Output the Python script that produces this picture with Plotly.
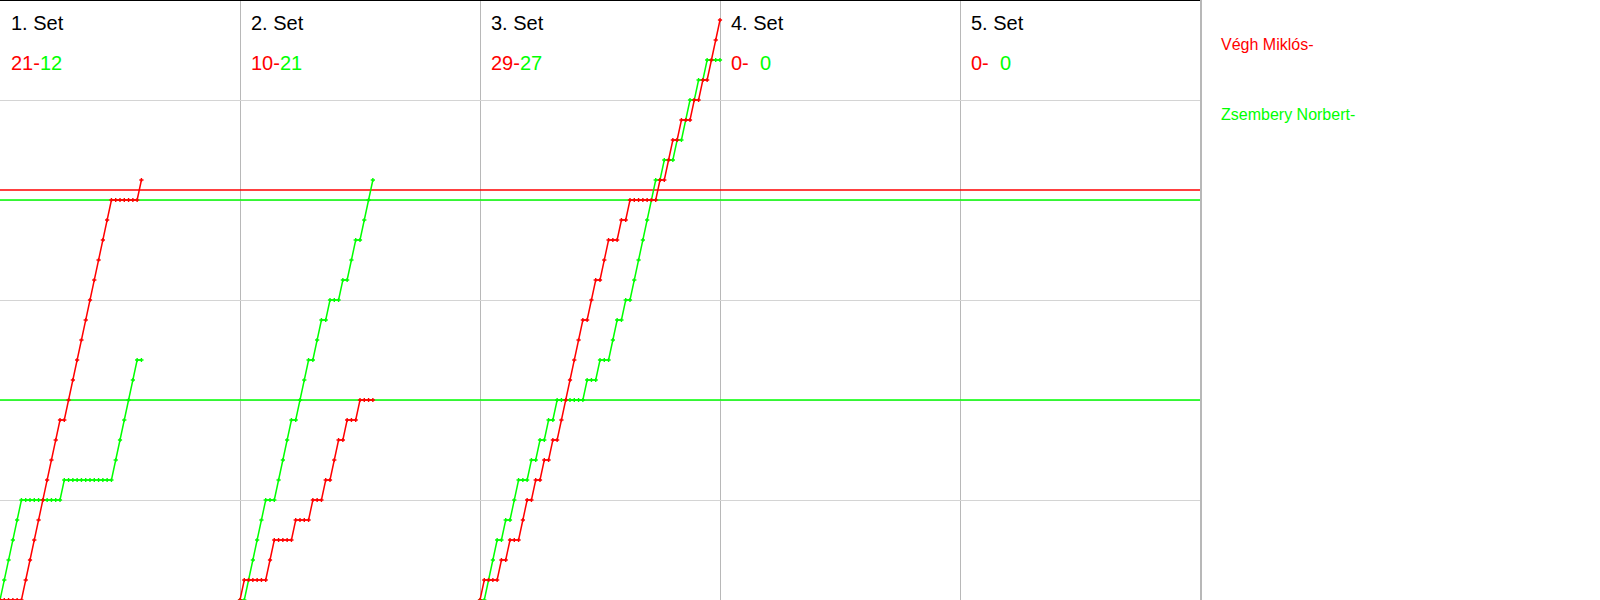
import plotly.graph_objects as go

# ---------------- data ----------------
players = ["Végh Miklós-", "Zsembery Norbert-"]
set_titles = ["1. Set", "2. Set", "3. Set", "4. Set", "5. Set"]
red_set_scores = [21, 10, 29, 0, 0]
green_set_scores = [12, 21, 27, 0, 0]

# rally winners per set (R = Végh Miklós, G = Zsembery Norbert), spaces separate runs
set1_rallies = "GGGGG RRRRRRRRR G RRRRRRRRRRR GGGGGG R"
set2_rallies = "R GGGGG RR GGGG R GGG R GG R G RR G R GG R GGG"
set3_rallies = ("R GGG R G R GG RR G R G R G R G RRRRRR G RR G RR GG R G R "
                "GGGGGG R G RR G R GG R G R G RRR")
set4_rallies = ""
set5_rallies = ""
all_sets = [set1_rallies, set2_rallies, set3_rallies, set4_rallies, set5_rallies]

RALLIES_PER_SET = 56          # x-width of one set panel (rallies)
red_ref_lines = [20.5]
green_ref_lines = [20, 10]

RED = "#ff0000"
GREEN = "#00ff00"
FONT = "Liberation Sans, Arial, sans-serif"
X_MAX = 5 * RALLIES_PER_SET

# ---------------- build progressions ----------------
rx, ry, gx, gy = [], [], [], []
for k, seq in enumerate(all_sets):
    seq = seq.replace(" ", "")
    if not seq:
        continue
    off = k * RALLIES_PER_SET
    r = g = 0
    xs, rs, gs = [off], [0], [0]
    for i, w in enumerate(seq, start=1):
        if w == "R":
            r += 1
        else:
            g += 1
        xs.append(off + i)
        rs.append(r)
        gs.append(g)
    rx += xs + [None]
    ry += rs + [None]
    gx += xs + [None]
    gy += gs + [None]

fig = go.Figure()

# reference lines (drawn as traces so they sit above the grid, below the data)
for v in green_ref_lines:
    fig.add_trace(go.Scatter(x=[0, X_MAX], y=[v, v], mode="lines",
                             line=dict(color=GREEN, width=1.5), hoverinfo="skip"))
for v in red_ref_lines:
    fig.add_trace(go.Scatter(x=[0, X_MAX], y=[v, v], mode="lines",
                             line=dict(color=RED, width=1.5), hoverinfo="skip"))

fig.add_trace(go.Scatter(x=gx, y=gy, mode="lines+markers", name=players[1],
                         line=dict(color=GREEN, width=1.5),
                         marker=dict(symbol="cross", size=3.5, color=GREEN),
                         hoverinfo="skip"))
fig.add_trace(go.Scatter(x=rx, y=ry, mode="lines+markers", name=players[0],
                         line=dict(color=RED, width=1.5),
                         marker=dict(symbol="cross", size=3.5, color=RED),
                         hoverinfo="skip"))

# top black border
fig.add_shape(type="line", xref="paper", yref="paper", x0=0, x1=1, y0=1, y1=1,
              line=dict(color="black", width=2), layer="above")

PLOT_W = 1200.0
PLOT_H = 600.0
annotations = []
for k in range(5):
    px = (240 * k + 9) / PLOT_W
    annotations.append(dict(xref="paper", yref="paper", x=px, y=1 - 23 / PLOT_H,
                            xanchor="left", yanchor="middle", showarrow=False,
                            text=set_titles[k],
                            font=dict(family=FONT, size=20, color="black")))
    rs = red_set_scores[k]
    gs = green_set_scores[k]
    gap = "\u00a0\u00a0" if gs < 10 else ""
    txt = (f"<span style='color:{RED}'>{rs}-</span>"
           f"<span style='color:{GREEN}'>{gap}{gs}</span>")
    annotations.append(dict(xref="paper", yref="paper", x=px, y=1 - 63 / PLOT_H,
                            xanchor="left", yanchor="middle", showarrow=False,
                            text=txt, font=dict(family=FONT, size=20, color=RED)))

annotations.append(dict(xref="paper", yref="paper", x=1219 / PLOT_W, y=1 - 44 / PLOT_H,
                        xanchor="left", yanchor="middle", showarrow=False,
                        text=players[0], font=dict(family=FONT, size=16, color=RED)))
annotations.append(dict(xref="paper", yref="paper", x=1219 / PLOT_W, y=1 - 115 / PLOT_H,
                        xanchor="left", yanchor="middle", showarrow=False,
                        text=players[1], font=dict(family=FONT, size=16, color=GREEN)))

fig.update_layout(
    width=1600, height=600,
    margin=dict(l=0, r=400, t=0, b=0),
    paper_bgcolor="white", plot_bgcolor="white",
    showlegend=False,
    annotations=annotations,
    xaxis=dict(range=[0, X_MAX], tick0=0, dtick=RALLIES_PER_SET,
               showgrid=True, gridcolor="#b8b8b8", gridwidth=1,
               showticklabels=False, ticks="", zeroline=False,
               showline=True, linecolor="#b8b8b8", linewidth=1, mirror=True),
    yaxis=dict(range=[0, 30], tick0=0, dtick=5,
               showgrid=True, gridcolor="#d4d4d4", gridwidth=1,
               showticklabels=False, ticks="", zeroline=False,
               showline=True, linecolor="#b8b8b8", linewidth=2, mirror=True),
)

fig.write_html("out.html",
               config={"displayModeBar": False},
               post_script="document.body.style.margin='0';document.body.style.overflow='hidden';")
